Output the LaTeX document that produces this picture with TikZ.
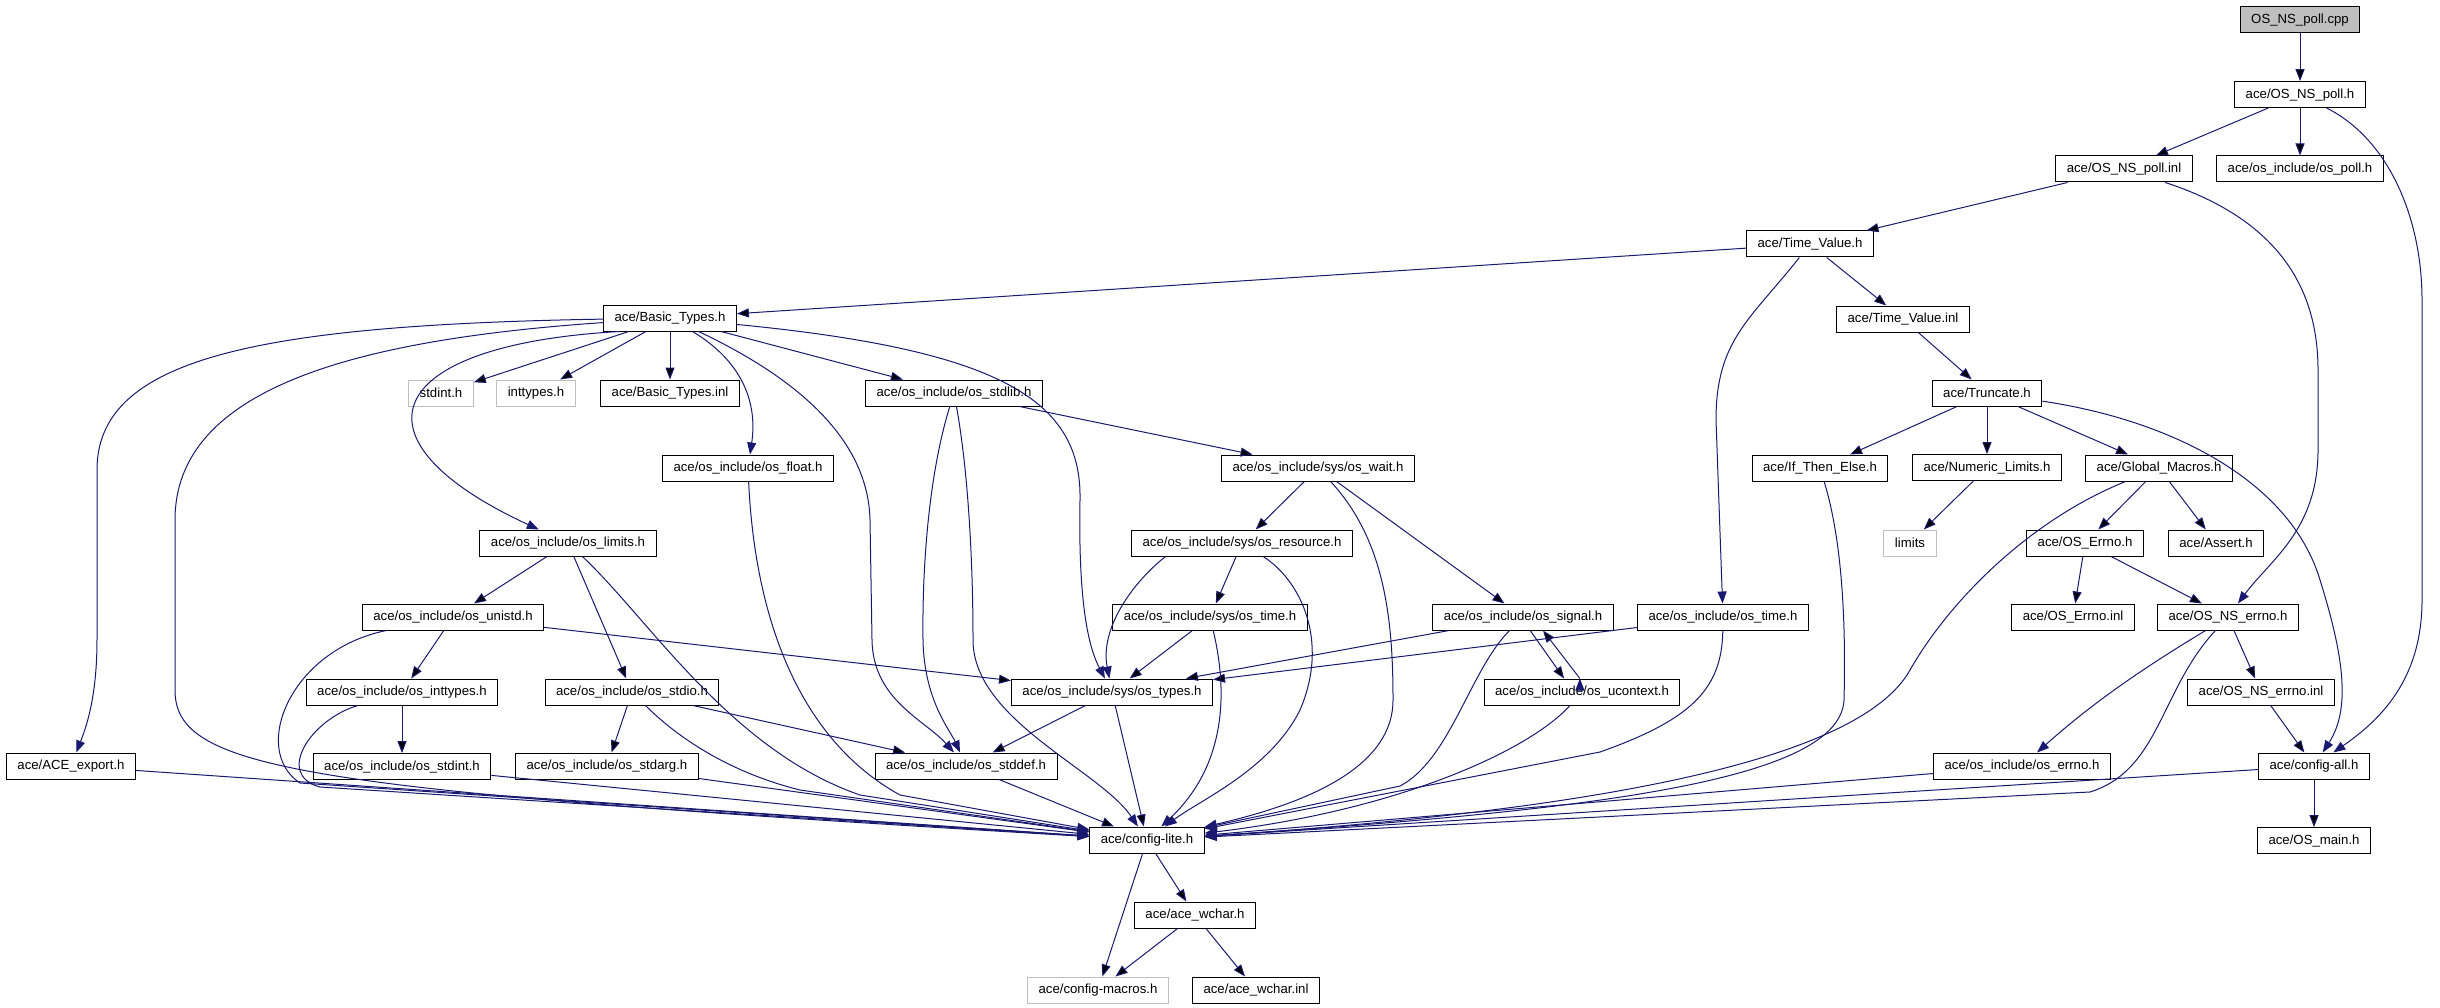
\documentclass[tikz,border=0pt]{standalone}
\usepackage{fontspec}
\setmainfont{Liberation Sans}
\usepackage{xcolor}
\usetikzlibrary{arrows,arrows.meta}
\usetikzlibrary{calc}
\usetikzlibrary{positioning}

\definecolor{depblue}{RGB}{25,25,112}
\definecolor{sysgray}{RGB}{191,191,191}

\begin{document}
\begin{tikzpicture}[x=1pt,y=-1pt,node distance=74.6pt,>={Triangle[length=12pt,width=9pt]}]
	\tikzstyle{file}=[draw=black, fill=white, text=black, line width=1pt, minimum height=26pt, inner xsep=11pt, inner ysep=0pt, font=\fontsize{13.2}{16}\selectfont]
	\tikzstyle{sysfile}=[file, draw=sysgray]
	\tikzstyle{mainfile}=[file, fill=sysgray]
	\tikzstyle{dep}=[->, draw=depblue, line width=1pt]
	\useasboundingbox (0,0) rectangle (2440,1008);

	\node[mainfile] (cpp) at (2300,20) {OS\_NS\_poll.cpp};
	\node[file] (pollh) [below of=cpp] {ace/OS\_NS\_poll.h};
	\node[file] (pollinl) at (2124,169) {ace/OS\_NS\_poll.inl};
	\node[file] (ospoll) at (2300,169) {ace/os\_include/os\_poll.h};
	\node[file] (tvh) at (1810,244) {ace/Time\_Value.h};
	\node[file] (btypes) at (670,318) {ace/Basic\_Types.h};
	\node[file] (tvinl) at (1903,319) {ace/Time\_Value.inl};
	\node[sysfile] (stdint) at (441,393) {stdint.h};
	\node[sysfile] (inttypes) at (536,393) {inttypes.h};
	\node[file] (btinl) at (670,393) {ace/Basic\_Types.inl};
	\node[file] (stdlib) at (954,393) {ace/os\_include/os\_stdlib.h};
	\node[file] (trunc) at (1987,393) {ace/Truncate.h};
	\node[file] (float) at (748,468) {ace/os\_include/os\_float.h};
	\node[file] (wait) at (1318,468) {ace/os\_include/sys/os\_wait.h};
	\node[file] (ifte) at (1820,468) {ace/If\_Then\_Else.h};
	\node[file] (numlim) [below of=trunc] {ace/Numeric\_Limits.h};
	\node[file] (glob) at (2159,468) {ace/Global\_Macros.h};
	\node[file] (limits) at (568,543) {ace/os\_include/os\_limits.h};
	\node[file] (resource) at (1242,543) {ace/os\_include/sys/os\_resource.h};
	\node[sysfile] (limitsstd) at (1910,543) {limits};
	\node[file] (oserrno) at (2085,543) {ace/OS\_Errno.h};
	\node[file] (assert) at (2216,543) {ace/Assert.h};
	\node[file] (unistd) at (453,617) {ace/os\_include/os\_unistd.h};
	\node[file] (systime) at (1210,617) {ace/os\_include/sys/os\_time.h};
	\node[file] (signal) at (1523,617) {ace/os\_include/os\_signal.h};
	\node[file] (ostime) at (1723,617) {ace/os\_include/os\_time.h};
	\node[file] (oserrnoinl) at (2073,617) {ace/OS\_Errno.inl};
	\node[file] (nserrno) at (2228,617) {ace/OS\_NS\_errno.h};
	\node[file] (inttypesh) at (402,692) {ace/os\_include/os\_inttypes.h};
	\node[file] (stdio) at (632,692) {ace/os\_include/os\_stdio.h};
	\node[file] (types) at (1112,692) {ace/os\_include/sys/os\_types.h};
	\node[file] (ucontext) at (1582,692) {ace/os\_include/os\_ucontext.h};
	\node[file] (nserrnoinl) at (2261,692) {ace/OS\_NS\_errno.inl};
	\node[file] (export) at (71,766) {ace/ACE\_export.h};
	\node[file] (stdintinc) [below of=inttypesh] {ace/os\_include/os\_stdint.h};
	\node[file] (stdarg) at (607,766) {ace/os\_include/os\_stdarg.h};
	\node[file] (stddef) at (966,766) {ace/os\_include/os\_stddef.h};
	\node[file] (errnoinc) at (2022,766) {ace/os\_include/os\_errno.h};
	\node[file] (cfgall) at (2314,766) {ace/config-all.h};
	\node[file] (cfglite) at (1147,840) {ace/config-lite.h};
	\node[file] (osmain) [below of=cfgall] {ace/OS\_main.h};
	\node[file] (wchar) at (1195,915) {ace/ace\_wchar.h};
	\node[sysfile] (macros) at (1098,990) {ace/config-macros.h};
	\node[file] (wcharinl) at (1256,990) {ace/ace\_wchar.inl};

	\path[dep]
		(cpp) edge (pollh)
		(pollh) edge (pollinl)
		(pollh) edge (ospoll)
		(pollinl) edge (tvh)
		(tvh) edge (btypes)
		(tvh) edge (tvinl)
		(tvinl) edge (trunc)
		(trunc) edge (ifte)
		(trunc) edge (numlim)
		(trunc) edge (glob)
		(numlim) edge (limitsstd)
		(glob) edge (oserrno)
		(glob) edge (assert)
		(oserrno) edge (oserrnoinl)
		(oserrno) edge (nserrno)
		(nserrno) edge (nserrnoinl)
		(nserrnoinl) edge (cfgall)
		(errnoinc) edge (cfglite)
		(cfgall) edge (cfglite)
		(cfgall) edge (osmain)
		(btypes) edge (stdint)
		(btypes) edge (inttypes)
		(btypes) edge (btinl)
		(btypes) edge (stdlib)
		(stdlib) edge (wait)
		(limits) edge (unistd)
		(limits) edge (stdio)
		(unistd) edge (inttypesh)
		(unistd) edge (types)
		(inttypesh) edge (stdintinc)
		(stdintinc) edge (cfglite)
		(stdio) edge (stdarg)
		(stdio) edge (stddef)
		(stdarg) edge (cfglite)
		(stddef) edge (cfglite)
		(types) edge (stddef)
		(types) edge (cfglite)
		(wait) edge (resource)
		(wait) edge (signal)
		(resource) edge (systime)
		(systime) edge (types)
		(signal) edge (types)
		(signal.-62) edge (ucontext.143)
		(ucontext.99) edge (signal.-34)
		(ostime) edge (types)
		(export) edge (cfglite)
		(cfglite) edge (macros)
		(cfglite) edge (wchar)
		(wchar) edge (macros)
		(wchar) edge (wcharinl);

	\draw[dep] (pollh) .. controls (2390,140) and (2422,220) .. (2422,300) -- (2422,600) .. controls (2422,680) and (2380,720) .. (cfgall);
	\draw[dep] (pollinl) .. controls (2280,220) and (2318,290) .. (2318,370) -- (2318,450) .. controls (2318,530) and (2270,560) .. (nserrno);
	\draw[dep] (tvh) .. controls (1750,320) and (1716,340) .. (1716,420) -- (ostime);
	\draw[dep] (trunc) .. controls (2170,420) and (2290,480) .. (2320,580) .. controls (2345,660) and (2350,710) .. (cfgall);
	\draw[dep] (glob) .. controls (2030,520) and (1950,600) .. (1910,670) .. controls (1860,760) and (1600,810) .. (cfglite);
	\draw[dep] (ifte) .. controls (1842,540) and (1846,620) .. (1844,700) .. controls (1840,780) and (1600,810) .. (cfglite);
	\draw[dep] (nserrno) .. controls (2140,670) and (2090,705) .. (errnoinc);
	\draw[dep] (nserrno) .. controls (2160,690) and (2160,770) .. (2090,792) -- (cfglite);
	\draw[dep] (btypes) .. controls (740,360) and (758,400) .. (float);
	\draw[dep] (btypes.195) .. controls (380,345) and (345,440) .. (limits);
	\draw[dep] (btypes) .. controls (1000,350) and (1082,400) .. (1080,500) .. controls (1078,610) and (1090,650) .. (types);
	\draw[dep] (btypes) .. controls (780,370) and (868,430) .. (870,520) -- (872,640) .. controls (873,700) and (925,720) .. (stddef);
	\draw[dep] (btypes) .. controls (250,325) and (97,360) .. (97,470) -- (97,640) .. controls (97,700) and (85,730) .. (export);
	\draw[dep] (btypes) .. controls (350,340) and (175,390) .. (175,520) -- (175,690) .. controls (175,770) and (300,790) .. (cfglite);
	\draw[dep] (stdlib) .. controls (930,470) and (922,560) .. (923,640) .. controls (924,700) and (950,730) .. (stddef);
	\draw[dep] (stdlib) .. controls (968,470) and (973,560) .. (973,640) .. controls (973,720) and (1100,770) .. (cfglite);
	\draw[dep] (float) .. controls (755,620) and (800,740) .. (900,795) -- (cfglite);
	\draw[dep] (limits) .. controls (650,620) and (730,750) .. (860,795) -- (cfglite);
	\draw[dep] (stdio) .. controls (670,730) and (720,770) .. (800,790) -- (cfglite);
	\draw[dep] (unistd) .. controls (290,650) and (250,750) .. (300,783) -- (cfglite);
	\draw[dep] (inttypesh) .. controls (310,720) and (275,775) .. (320,787) -- (cfglite);
	\draw[dep] (wait) .. controls (1385,540) and (1393,620) .. (1393,700) .. controls (1393,770) and (1300,805) .. (cfglite);
	\draw[dep] (resource.190) .. controls (1130,585) and (1100,630) .. (types);
	\draw[dep] (resource) .. controls (1300,580) and (1330,640) .. (1300,710) .. controls (1270,770) and (1200,800) .. (cfglite);
	\draw[dep] (systime) .. controls (1225,680) and (1232,760) .. (cfglite);
	\draw[dep] (signal) .. controls (1470,670) and (1450,760) .. (1400,786) -- (cfglite);
	\draw[dep] (ucontext) .. controls (1530,750) and (1400,810) .. (cfglite);
	\draw[dep] (ostime) .. controls (1722,690) and (1690,720) .. (1600,752) -- (cfglite);
\end{tikzpicture}
\end{document}
